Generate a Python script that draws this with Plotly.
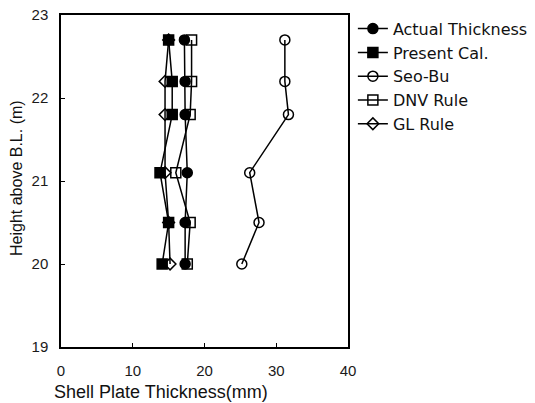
import plotly.graph_objects as go

heights = [22.7, 22.2, 21.8, 21.1, 20.5, 20.0]
actual = [17.2, 17.3, 17.3, 17.6, 17.3, 17.3]
present = [15.0, 15.5, 15.5, 13.8, 15.0, 14.1]
seobu = [31.2, 31.2, 31.7, 26.3, 27.6, 25.2]
dnv = [18.2, 18.2, 18.0, 16.0, 18.0, 17.6]
gl = [15.0, 14.5, 14.5, 14.5, 15.0, 15.2]

x_ticks = [0, 10, 20, 30, 40]
y_ticks = [19, 20, 21, 22, 23]

series = [
    ("Actual Thickness", actual, "circle", 10),
    ("Present Cal.", present, "square", 10),
    ("Seo-Bu", seobu, "circle-open", 10),
    ("DNV Rule", dnv, "square-open", 10),
    ("GL Rule", gl, "diamond-open", 9),
]

FAM = "Liberation Sans, Arial, sans-serif"
LFAM = "DejaVu Sans, Liberation Sans, sans-serif"

fig = go.Figure()
for i, (name, vals, sym, sz) in enumerate(series):
    fig.add_trace(go.Scatter(
        x=vals, y=heights, name=name, mode="lines+markers",
        line=dict(color="black", width=1.5),
        marker=dict(symbol=sym, size=sz, color="black",
                    line=dict(color="black", width=1.5)),
    ))

fig.update_layout(
    width=535, height=403,
    margin=dict(l=61, r=187, t=15, b=56, autoexpand=False),
    plot_bgcolor="white", paper_bgcolor="white",
    font=dict(family=FAM, size=15, color="#1a1a1a"),
    showlegend=True,
    legend=dict(x=1.017, y=1.01, xanchor="left", yanchor="top",
                font=dict(family=LFAM, size=16, color="#111"),
                tracegroupgap=0, bgcolor="rgba(0,0,0,0)"),
    xaxis=dict(range=[0, 40], tickvals=x_ticks, showgrid=False,
               zeroline=False, showline=True, linecolor="black", linewidth=1.5,
               mirror=True, ticks="inside", ticklen=4, tickcolor="black",
               ticklabelstandoff=9),
    yaxis=dict(range=[19, 23], tickvals=y_ticks, showgrid=False,
               zeroline=False, showline=True, linecolor="black", linewidth=1.5,
               mirror=True, ticks="inside", ticklen=4, tickcolor="black",
               ticklabelstandoff=8),
    annotations=[
        dict(text="Shell Plate Thickness(mm)", xref="paper", yref="paper",
             x=(161 - 61) / 287, y=-(392 - 347) / 332, xanchor="center",
             yanchor="middle", showarrow=False,
             font=dict(family=FAM, size=18, color="#111")),
        dict(text="Height above B.L. (m)", xref="paper", yref="paper",
             x=-(61 - 16) / 287, y=(347 - 178) / 332, xanchor="center",
             yanchor="middle", showarrow=False, textangle=-90,
             font=dict(family=FAM, size=16, color="#111")),
    ],
)

fig.write_html("out.html")
